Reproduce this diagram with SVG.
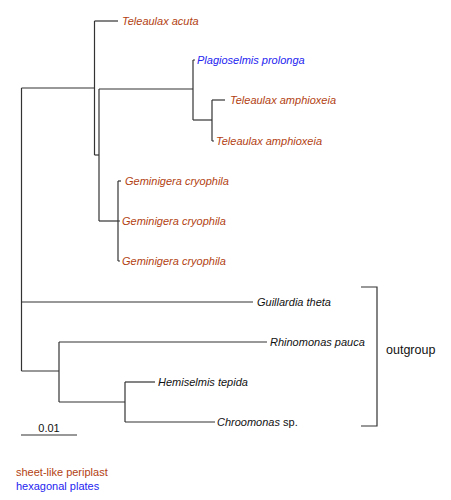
<svg xmlns="http://www.w3.org/2000/svg" width="451" height="500" viewBox="0 0 451 500">
<style>
.br{stroke:#333;stroke-width:1.2;fill:none}
text{font-family:"Liberation Sans",Arial,sans-serif;font-size:11px}
.sp{font-style:italic}
.sheet{fill:#B23F12}
.hex{fill:#2424F0}
.out{fill:#111}
</style>
<rect width="451" height="500" fill="#fff"/>
<g id="connectors" class="br">
<path d="M21.5,88 V371"/>
<path d="M21.5,88 H94.5"/>
<path d="M94.5,21 V155"/>
<path d="M94.5,21 H118"/>
<path d="M94.5,155 H99"/>
<path d="M99,89 V221"/>
<path d="M99,89 H193"/>
<path d="M193,60 V120"/>
<path d="M193,60 H195"/>
<path d="M193,120 H212"/>
<path d="M212,100 V141"/>
<path d="M212,100 H225"/>
<path d="M212,141 H214"/>
<path d="M99,221 H118"/>
<path d="M118,181 V261"/>
<path d="M118,181 H121"/>
<path d="M118,221 H120"/>
<path d="M118,261 H120"/>
<path d="M21.5,302 H253"/>
<path d="M21.5,371 H59"/>
<path d="M59,342 V402"/>
<path d="M59,342 H267"/>
<path d="M59,402 H125"/>
<path d="M125,382 V422"/>
<path d="M125,382 H155"/>
<path d="M125,422 H215"/>
</g>
<g id="leaf-teleaulax-acuta"><text class="sp sheet" x="122" y="25">Teleaulax acuta</text></g>
<g id="leaf-plagioselmis"><text class="sp hex" x="197" y="64">Plagioselmis prolonga</text></g>
<g id="leaf-teleaulax-amph-1"><text class="sp sheet" x="230" y="104">Teleaulax amphioxeia</text></g>
<g id="leaf-teleaulax-amph-2"><text class="sp sheet" x="216" y="145">Teleaulax amphioxeia</text></g>
<g id="leaf-geminigera-1"><text class="sp sheet" x="125" y="185">Geminigera cryophila</text></g>
<g id="leaf-geminigera-2"><text class="sp sheet" x="122" y="225">Geminigera cryophila</text></g>
<g id="leaf-geminigera-3"><text class="sp sheet" x="122" y="265">Geminigera cryophila</text></g>
<g id="leaf-guillardia"><text class="sp out" x="257" y="306">Guillardia theta</text></g>
<g id="leaf-rhinomonas"><text class="sp out" x="270" y="346">Rhinomonas pauca</text></g>
<g id="leaf-hemiselmis"><text class="sp out" x="158" y="386">Hemiselmis tepida</text></g>
<g id="leaf-chroomonas"><text class="out" x="217" y="426"><tspan class="sp">Chroomonas</tspan> sp.</text></g>
<g id="outgroup-bracket">
<path class="br" d="M361,287 H377 V426 H361"/>
<text class="out" x="386" y="354" style="font-size:12.5px">outgroup</text>
</g>
<g id="scale-bar">
<path class="br" d="M21,435 H77"/>
<text class="out" x="49" y="432" text-anchor="middle">0.01</text>
</g>
<g id="legend">
<text class="sheet" x="16" y="476">sheet-like periplast</text>
<text class="hex" x="16" y="490">hexagonal plates</text>
</g>
</svg>
